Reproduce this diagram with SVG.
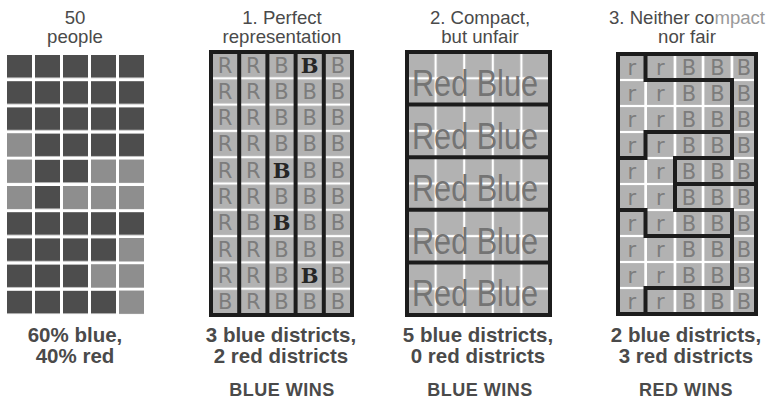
<svg xmlns="http://www.w3.org/2000/svg" width="773" height="401" viewBox="0 0 773 401">
<style>
.ttl{font-family:"Liberation Sans",Arial,sans-serif;font-size:18.6px;fill:#4a4a4a;text-anchor:middle}
.fade{fill:#9a9a9a}
.stat{font-family:"Liberation Sans",Arial,sans-serif;font-size:20.5px;font-weight:bold;fill:#4a4a4a;text-anchor:middle}
.win{font-family:"Liberation Sans",Arial,sans-serif;font-size:18px;font-weight:bold;fill:#4a4a4a;text-anchor:middle;letter-spacing:0.5px}
.lt{font-family:"DejaVu Sans",sans-serif;font-size:21px;fill:#7c7c7c;text-anchor:middle}
.dk{fill:#262626;font-family:"DejaVu Serif",serif;font-weight:bold}
.hw{font-family:"Liberation Sans",Arial,sans-serif;font-size:37px;fill:#747474;text-anchor:middle}
.light{fill:#8e8e8e}
.frame{fill:none;stroke:#1c1c1c;stroke-width:4}
.dist{fill:none;stroke:#1c1c1c;stroke-width:4;stroke-linecap:square}
</style>
<defs>
<pattern id="pl" x="7" y="55" width="28" height="26.2" patternUnits="userSpaceOnUse"><rect width="25" height="22.7" fill="#4d4d4d"/></pattern>
<pattern id="p1" x="211" y="52" width="28.2" height="26.3" patternUnits="userSpaceOnUse"><rect x="1.1" y="1.1" width="26" height="24.1" fill="#b2b2b2"/></pattern>
<pattern id="p2" x="407" y="52" width="28.6" height="26.3" patternUnits="userSpaceOnUse"><rect x="1.1" y="1.1" width="26.4" height="24.1" fill="#b2b2b2"/></pattern>
<pattern id="p3" x="0" y="54" width="800" height="26" patternUnits="userSpaceOnUse"><rect x="0" y="1.1" width="800" height="23.8" fill="#b2b2b2"/></pattern>
</defs>
<rect width="773" height="401" fill="#fff"/>

<g id="population">
<text class="ttl" x="75" y="24">50</text>
<text class="ttl" x="75" y="43">people</text>
<rect x="7" y="55" width="140" height="262" fill="url(#pl)"/>
<rect class="light" x="7" y="133.6" width="25" height="22.7"/>
<rect class="light" x="7" y="159.8" width="25" height="22.7"/>
<rect class="light" x="91" y="159.8" width="25" height="22.7"/>
<rect class="light" x="119" y="159.8" width="25" height="22.7"/>
<rect class="light" x="7" y="186" width="25" height="22.7"/>
<rect class="light" x="63" y="186" width="25" height="22.7"/>
<rect class="light" x="91" y="186" width="25" height="22.7"/>
<rect class="light" x="119" y="186" width="25" height="22.7"/>
<rect class="light" x="119" y="238.4" width="25" height="22.7"/>
<rect class="light" x="91" y="264.6" width="25" height="22.7"/>
<rect class="light" x="119" y="264.6" width="25" height="22.7"/>
<rect class="light" x="119" y="290.8" width="25" height="22.7"/>
<text class="stat" x="75" y="342">60% blue,</text>
<text class="stat" x="75" y="363">40% red</text>
</g>

<g id="plan1">
<text class="ttl" x="282" y="24">1. Perfect</text>
<text class="ttl" x="282" y="43">representation</text>
<rect x="211" y="52" width="141" height="263" fill="url(#p1)"/>
<g class="lt">
<text x="225.1 253.3 281.5 309.7 337.9" y="72.5">RRB<tspan class="dk">B</tspan>B</text>
<text x="225.1 253.3 281.5 309.7 337.9" y="98.8">RRBBB</text>
<text x="225.1 253.3 281.5 309.7 337.9" y="125.1">RRBBB</text>
<text x="225.1 253.3 281.5 309.7 337.9" y="151.4">RRBBB</text>
<text x="225.1 253.3 281.5 309.7 337.9" y="177.7">RR<tspan class="dk">B</tspan>BB</text>
<text x="225.1 253.3 281.5 309.7 337.9" y="204">RRBBB</text>
<text x="225.1 253.3 281.5 309.7 337.9" y="230.3">RB<tspan class="dk">B</tspan>BB</text>
<text x="225.1 253.3 281.5 309.7 337.9" y="256.6">RRBBB</text>
<text x="225.1 253.3 281.5 309.7 337.9" y="282.9">RRB<tspan class="dk">B</tspan>B</text>
<text x="225.1 253.3 281.5 309.7 337.9" y="309.2">BRBBB</text>
</g>
<path class="dist" d="M239.2 52V315M267.4 52V315M295.6 52V315M323.8 52V315"/>
<rect class="frame" x="211" y="52" width="141" height="263"/>
<text class="stat" x="281" y="342">3 blue districts,</text>
<text class="stat" x="281" y="363">2 red districts</text>
<text class="win" x="282" y="396">BLUE WINS</text>
</g>

<g id="plan2">
<text class="ttl" x="480" y="24">2. Compact,</text>
<text class="ttl" x="480" y="43">but unfair</text>
<rect x="407" y="52" width="143" height="263" fill="url(#p2)"/>
<g class="hw">
<text x="475" y="96" textLength="126" lengthAdjust="spacingAndGlyphs">Red Blue</text>
<text x="475" y="149" textLength="126" lengthAdjust="spacingAndGlyphs">Red Blue</text>
<text x="475" y="201" textLength="126" lengthAdjust="spacingAndGlyphs">Red Blue</text>
<text x="475" y="254" textLength="126" lengthAdjust="spacingAndGlyphs">Red Blue</text>
<text x="475" y="306" textLength="126" lengthAdjust="spacingAndGlyphs">Red Blue</text>
</g>
<path class="dist" d="M407 104.6H550M407 157.2H550M407 209.8H550M407 262.4H550"/>
<rect class="frame" x="407" y="52" width="143" height="263"/>
<text class="stat" x="478" y="342">5 blue districts,</text>
<text class="stat" x="478" y="363">0 red districts</text>
<text class="win" x="480" y="396">BLUE WINS</text>
</g>

<g id="plan3">
<text class="ttl" x="687" y="24">3. Neither co<tspan class="fade">mpact</tspan></text>
<text class="ttl" x="687" y="43">nor fair</text>
<g fill="url(#p3)">
<rect x="619.5" y="54" width="24.8" height="260"/>
<rect x="647" y="54" width="26.6" height="260"/>
<rect x="676.3" y="54" width="25.4" height="260"/>
<rect x="704.4" y="54" width="26.2" height="260"/>
<rect x="733.3" y="54" width="21.7" height="260"/>
</g>
<g class="lt">
<text x="631.8 660.3 689 717.5 744" y="74.5">rrBBB</text>
<text x="631.8 660.3 689 717.5 744" y="100.5">rrBBB</text>
<text x="631.8 660.3 689 717.5 744" y="126.5">rrBBB</text>
<text x="631.8 660.3 689 717.5 744" y="152.5">rrBBB</text>
<text x="631.8 660.3 689 717.5 744" y="178.5">rrBBB</text>
<text x="631.8 660.3 689 717.5 744" y="204.5">rrBBB</text>
<text x="631.8 660.3 689 717.5 744" y="230.5">rrBBB</text>
<text x="631.8 660.3 689 717.5 744" y="256.5">rrBBB</text>
<text x="631.8 660.3 689 717.5 744" y="282.5">rrBBB</text>
<text x="631.8 660.3 689 717.5 744" y="308.5">rrBBB</text>
</g>
<path class="dist" d="M645.5 54V80H732V158M645.5 132H732M645.5 132V158H618M675 158H732M675 158V210M675 184H756M618 210H645.5V236H732M675 210H732M732 210V288M645.5 288H732M645.5 288V314"/>
<rect class="frame" x="618" y="54" width="138" height="260"/>
<text class="stat" x="686" y="342">2 blue districts,</text>
<text class="stat" x="686" y="363">3 red districts</text>
<text class="win" x="686" y="396">RED WINS</text>
</g>
</svg>
